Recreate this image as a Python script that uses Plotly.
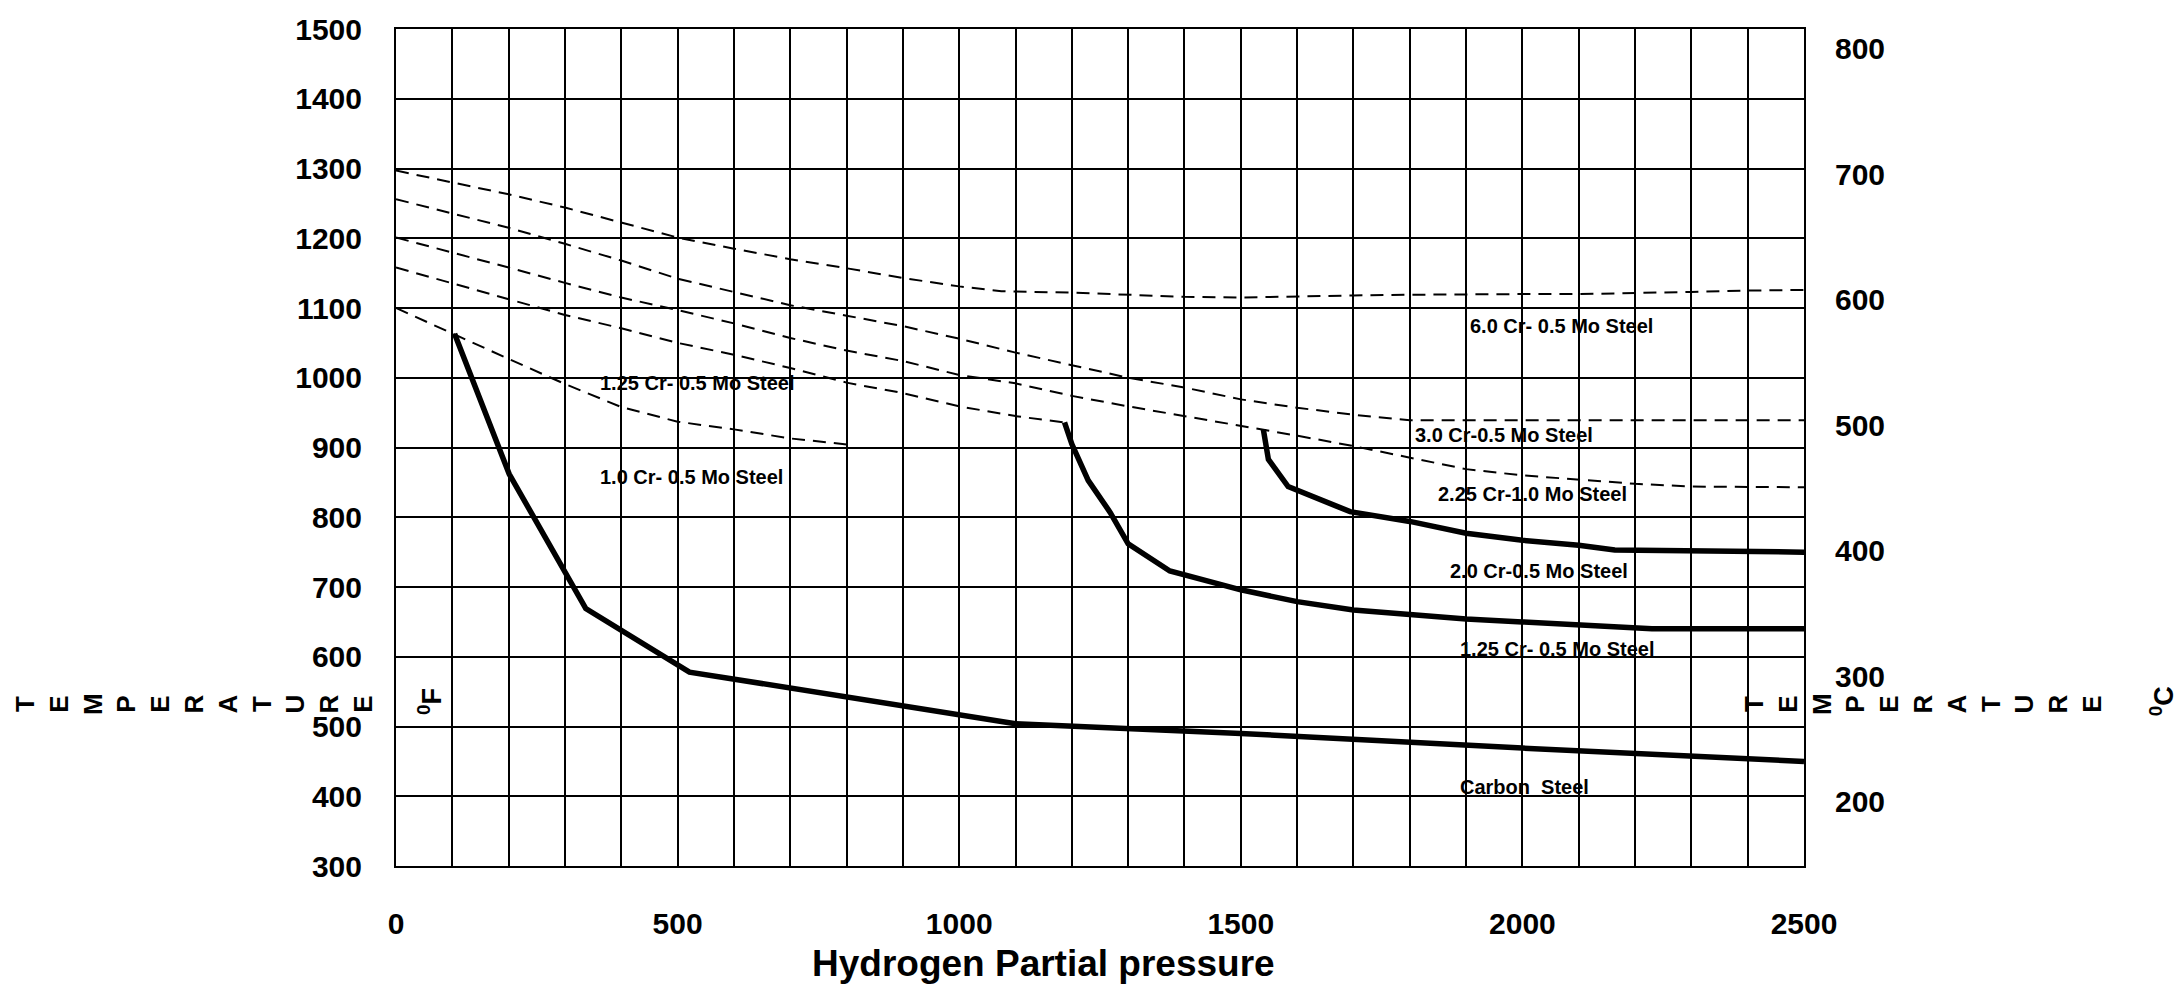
import plotly.graph_objects as go

# ---------------- data ----------------
# dashed curves (x = hydrogen partial pressure, y = temperature degF)
d1_x = [0, 100, 200, 300, 400, 500, 600, 700, 800, 900, 1000, 1075, 1200, 1300, 1400, 1500,
        1600, 1700, 1800, 1900, 2000, 2100, 2200, 2300, 2400, 2500]
d1_y = [1297, 1280, 1263, 1244, 1223, 1201, 1185, 1170, 1157, 1143, 1131, 1124, 1122, 1119, 1116, 1115,
        1117, 1118, 1119, 1120, 1120, 1120, 1121, 1123, 1125, 1126]

d2_x = [0, 100, 200, 300, 400, 500, 600, 700, 800, 900, 1000, 1100, 1200, 1300, 1400, 1500,
        1600, 1700, 1800, 1900, 2000, 2100, 2200, 2300, 2400, 2500]
d2_y = [1256, 1235, 1215, 1192, 1168, 1142, 1123, 1104, 1089, 1074, 1056, 1036, 1018, 1000, 986, 969,
        957, 947, 939, 939, 939, 939, 939, 939, 939, 939]

d3_x = [0, 100, 200, 300, 400, 500, 600, 700, 800, 900, 1000, 1100, 1200, 1300, 1400, 1500,
        1600, 1700, 1800, 1900, 2000, 2100, 2200, 2300, 2400, 2500]
d3_y = [1201, 1180, 1158, 1136, 1115, 1097, 1078, 1057, 1039, 1024, 1004, 992, 974, 959, 945, 932,
        917, 902, 885, 869, 860, 854, 848, 844, 843, 843]

d4_x = [0, 100, 200, 300, 400, 500, 600, 700, 800, 900, 1000, 1100, 1185]
d4_y = [1158, 1135, 1113, 1090, 1071, 1050, 1033, 1014, 993, 978, 959, 945, 936]

d5_x = [0, 100, 200, 300, 400, 500, 600, 700, 805]
d5_y = [1100, 1063, 1027, 991, 958, 937, 926, 913, 904]

# solid curves
carbon_x = [104, 201, 337, 521, 1100, 1500, 2000, 2500]
carbon_y = [1063, 862, 669, 578, 504, 490, 469, 450]

cr125_x = [1187, 1200, 1229, 1268, 1300, 1374, 1500, 1600, 1700, 1800, 1900, 2000, 2100, 2230, 2500]
cr125_y = [936, 905, 853, 807, 762, 723, 696, 679, 667, 661, 654, 650, 645, 640, 640]

cr20_x = [1540, 1549, 1584, 1694, 1800, 1900, 2000, 2100, 2164, 2500]
cr20_y = [926, 883, 844, 808, 794, 777, 767, 760, 753, 750]

# curve labels (text, x, y in data units, left-anchored)
label_text = ["6.0 Cr- 0.5 Mo Steel", "3.0 Cr-0.5 Mo Steel", "2.25 Cr-1.0 Mo Steel",
              "2.0 Cr-0.5 Mo Steel", "1.25 Cr- 0.5 Mo Steel", "Carbon\u00a0 Steel",
              "1.25 Cr- 0.5 Mo Steel", "1.0 Cr- 0.5 Mo Steel"]
label_x = [1903, 1806, 1847, 1868, 1886, 1886, 359, 359]
label_y = [1074, 918, 834, 723, 611, 413, 993, 857]

# axis ticks
x_ticks = [0, 500, 1000, 1500, 2000, 2500]
y_ticks_f = list(range(300, 1501, 100))
y_ticks_c = [200, 300, 400, 500, 600, 700, 800]
y_range_f = [300, 1500]

# ---------------- figure ----------------
FONT = "Liberation Sans, Arial, sans-serif"
fig = go.Figure()

dash_style = "13px,8px"
for xs, ys in [(d1_x, d1_y), (d2_x, d2_y), (d3_x, d3_y), (d4_x, d4_y), (d5_x, d5_y)]:
    fig.add_trace(go.Scatter(x=xs, y=ys, mode="lines",
                             line=dict(color="black", width=2, dash=dash_style),
                             showlegend=False, hoverinfo="skip"))

for xs, ys in [(carbon_x, carbon_y), (cr125_x, cr125_y), (cr20_x, cr20_y)]:
    fig.add_trace(go.Scatter(x=xs, y=ys, mode="lines",
                             line=dict(color="black", width=5.5),
                             showlegend=False, hoverinfo="skip"))

# invisible trace to activate the Celsius axis
fig.add_trace(go.Scatter(x=[None], y=[None], yaxis="y2", showlegend=False, hoverinfo="skip"))

for t, x, y in zip(label_text, label_x, label_y):
    fig.add_annotation(x=x, y=y, text=t, showarrow=False, xanchor="left", yanchor="middle",
                       font=dict(family=FONT, size=20, color="black", weight="bold"))

c_lo = (y_range_f[0] - 32) / 1.8
c_hi = (y_range_f[1] - 32) / 1.8

rot_text = "<br>".join(list("TEMPERATURE"))
fig.add_annotation(xref="paper", yref="paper", x=-0.1435, y=0.1936, text=rot_text,
                   textangle=-90, showarrow=False, xanchor="center", yanchor="middle",
                   font=dict(family=FONT, size=26, color="black", weight="bold"))
fig.add_annotation(xref="paper", yref="paper", x=1.0845, y=0.1936, text=rot_text,
                   textangle=-90, showarrow=False, xanchor="center", yanchor="middle",
                   font=dict(family=FONT, size=26, color="black", weight="bold"))
fig.add_annotation(xref="paper", yref="paper", x=0.0241, y=0.197, text="<sup>0</sup>F",
                   textangle=-90, showarrow=False, xanchor="center", yanchor="middle",
                   font=dict(family=FONT, size=27, color="black", weight="bold"))
fig.add_annotation(xref="paper", yref="paper", x=1.2543, y=0.197, text="<sup>0</sup>C",
                   textangle=-90, showarrow=False, xanchor="center", yanchor="middle",
                   font=dict(family=FONT, size=27, color="black", weight="bold"))
fig.add_annotation(xref="paper", yref="paper", x=0.460, y=-0.1164, text="Hydrogen Partial pressure",
                   showarrow=False, xanchor="center", yanchor="middle",
                   font=dict(family=FONT, size=37, color="black", weight="bold"))

fig.update_layout(
    width=2181, height=993,
    margin=dict(l=396, r=377, t=24, b=127),
    paper_bgcolor="white", plot_bgcolor="white",
    showlegend=False,
    xaxis=dict(range=[0, 2500], tickvals=x_ticks, ticktext=[str(v) for v in x_ticks],
               showgrid=True, gridcolor="black", gridwidth=1.5, zeroline=False,
               minor=dict(dtick=100, showgrid=True, gridcolor="black", gridwidth=1.5, ticks=""),
               showline=True, linecolor="black", linewidth=2, mirror=True,
               ticks="outside", ticklen=30, tickcolor="rgba(0,0,0,0)",
               tickfont=dict(family=FONT, size=30, color="black", weight="bold")),
    yaxis=dict(range=y_range_f, tickvals=y_ticks_f, ticktext=[str(v) for v in y_ticks_f],
               showgrid=True, gridcolor="black", gridwidth=1.5, zeroline=False,
               showline=True, linecolor="black", linewidth=2, mirror=True,
               ticks="outside", ticklen=26, tickcolor="rgba(0,0,0,0)",
               tickfont=dict(family=FONT, size=30, color="black", weight="bold")),
    yaxis2=dict(range=[c_lo, c_hi], overlaying="y", side="right",
                tickvals=y_ticks_c, ticktext=[str(v) for v in y_ticks_c],
                showgrid=False, zeroline=False, showline=False,
                ticks="outside", ticklen=24, tickcolor="rgba(0,0,0,0)",
                tickfont=dict(family=FONT, size=30, color="black", weight="bold")),
)

fig.write_html("out.html", config={"displayModeBar": False},
               post_script="document.body.style.margin='0';document.body.style.overflow='hidden';")
